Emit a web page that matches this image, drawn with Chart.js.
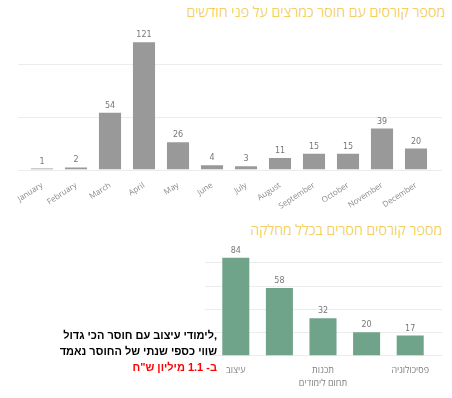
<!DOCTYPE html>
<html lang="he">

<head>
    <meta charset="UTF-8">
    <title>Missing lecturers</title>
    <script src="https://cdn.jsdelivr.net/npm/chart.js"></script>
    <style>
        body {
            margin: 0;
            width: 452px;
            height: 398px;
            background: #fff;
            position: relative;
            overflow: hidden;
            font-family: "Open Sans", "Noto Sans", "DejaVu Sans", sans-serif;
        }

        .box {
            position: absolute;
            left: 0;
            width: 452px;
        }

        .title {
            position: absolute;
            color: #F2C744;
            font-size: 14.3px;
            line-height: 18px;
            font-weight: 300;
            white-space: nowrap;
        }

        #note {
            position: absolute;
            right: 235px;
            top: 327px;
            font-family: "Liberation Sans", Arial, sans-serif;
            font-weight: bold;
            font-size: 11px;
            line-height: 16px;
            text-align: right;
            white-space: nowrap;
            color: #000;
        }
    </style>
</head>

<body>
    <div class="title" dir="rtl" style="right: 7px; top: 3px;">מספר קורסים עם חוסר כמרצים על פני חודשים</div>
    <div class="box" style="top: 0; height: 216px;"><canvas id="monthChart"></canvas></div>

    <div class="title" dir="rtl" style="right: 10px; top: 221px;">מספר קורסים חסרים בכלל מחלקה</div>
    <div class="box" style="top: 200px; height: 198px;"><canvas id="deptChart"></canvas></div>

    <!-- text box was typed left-to-right, so the comma sits on the right -->
    <div id="note" dir="ltr">
        <div>לימודי עיצוב עם חוסר הכי גדול,</div>
        <div>שווי כספי שנתי של החוסר נאמד</div>
        <div style="color: #ff0000;">ב- 1.1 מיליון ש"ח</div>
    </div>

    <script>
        const months = ['January', 'February', 'March', 'April', 'May', 'June',
            'July', 'August', 'September', 'October', 'November', 'December'];
        const monthCounts = [1, 2, 54, 121, 26, 4, 3, 11, 15, 15, 39, 20];
        const monthGrid = [0, 50, 100];

        const departments = ['עיצוב', 'סטטיסטיקה', 'תכנות', 'לימודי הוראה', 'פסיכולוגיה'];
        const deptCounts = [84, 58, 32, 20, 17];
        const deptGrid = [0, 20, 40, 60, 80];

        // light gridlines, a bit wider than the bars area (like the power bi visual)
        const wideGrid = {
            id: 'wideGrid',
            beforeDatasetsDraw(chart, args, opts) {
                const ctx = chart.ctx;
                const area = chart.chartArea;
                const y = chart.scales.y;
                ctx.save();
                ctx.strokeStyle = '#ececec';
                ctx.lineWidth = 1;
                for (const v of opts.values) {
                    const py = Math.round(y.getPixelForValue(v)) + 0.5;
                    ctx.beginPath();
                    ctx.moveTo(area.left - opts.extLeft, py);
                    ctx.lineTo(area.right + opts.extRight, py);
                    ctx.stroke();
                }
                ctx.restore();
            }
        };

        // value over each bar
        const barValues = {
            id: 'barValues',
            afterDatasetsDraw(chart, args, opts) {
                const ctx = chart.ctx;
                const meta = chart.getDatasetMeta(0);
                const data = chart.data.datasets[0].data;
                ctx.save();
                ctx.fillStyle = '#777';
                ctx.font = '8px "DejaVu Sans", sans-serif';
                ctx.textAlign = 'center';
                ctx.textBaseline = 'bottom';
                meta.data.forEach((bar, i) => {
                    ctx.fillText(data[i], bar.x, bar.y - 3);
                });
                ctx.restore();
            }
        };

        const monthChart = new Chart(document.getElementById('monthChart'), {
            type: 'bar',
            data: {
                labels: months,
                datasets: [{
                    data: monthCounts,
                    backgroundColor: '#999999',
                    barPercentage: 0.65,
                    categoryPercentage: 1
                }]
            },
            options: {
                responsive: true,
                maintainAspectRatio: false,
                animation: false,
                layout: {
                    padding: { left: 25, right: 19, top: 38, bottom: 2 }
                },
                scales: {
                    x: {
                        grid: { display: false },
                        border: { display: false },
                        ticks: {
                            color: '#8a8a8a',
                            font: { size: 8, family: '"Open Sans", sans-serif' },
                            minRotation: 33,
                            maxRotation: 33,
                            padding: 3
                        }
                    },
                    y: {
                        display: false,
                        min: 0,
                        max: 125
                    }
                },
                plugins: {
                    legend: { display: false },
                    tooltip: { enabled: false },
                    wideGrid: { values: monthGrid, extLeft: 7, extRight: 9 }
                }
            },
            plugins: [wideGrid, barValues]
        });

        const deptChart = new Chart(document.getElementById('deptChart'), {
            type: 'bar',
            data: {
                labels: departments,
                datasets: [{
                    data: deptCounts,
                    backgroundColor: '#6FA38A',
                    barPercentage: 0.62,
                    categoryPercentage: 1
                }]
            },
            options: {
                responsive: true,
                maintainAspectRatio: false,
                animation: false,
                layout: {
                    padding: { left: 214, right: 20, top: 53, bottom: 9 }
                },
                scales: {
                    x: {
                        grid: { display: false },
                        border: { display: false },
                        ticks: {
                            color: '#808080',
                            font: { size: 9, family: '"Open Sans", sans-serif' },
                            maxRotation: 0,
                            padding: 2
                        },
                        title: {
                            display: true,
                            text: 'תחום לימודים',
                            color: '#808080',
                            font: { size: 9, family: '"Open Sans", sans-serif' },
                            padding: { top: 0, bottom: 0 }
                        }
                    },
                    y: {
                        display: false,
                        min: 0,
                        max: 88
                    }
                },
                plugins: {
                    legend: { display: false },
                    tooltip: { enabled: false },
                    wideGrid: { values: deptGrid, extLeft: 9, extRight: 10 }
                }
            },
            plugins: [wideGrid, barValues]
        });
    </script>
</body>

</html>
